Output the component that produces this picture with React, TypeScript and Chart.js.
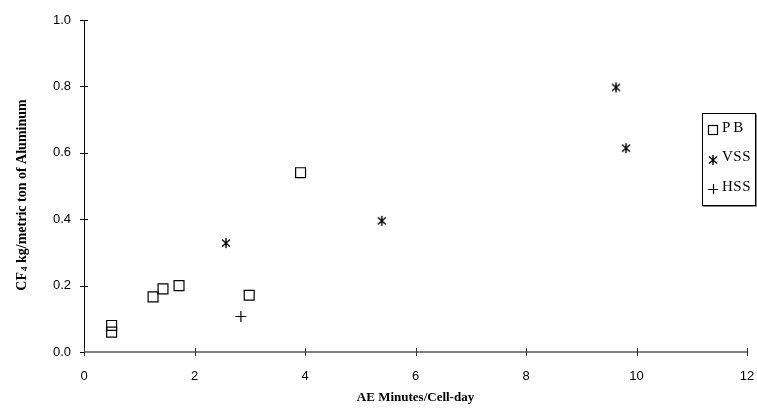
import React, { useEffect, useRef } from "react";
import { Chart, registerables } from "chart.js";

Chart.register(...registerables);

const pbX = [0.5, 0.5, 1.25, 1.43, 1.72, 2.99, 3.92];
const pbY = [0.08, 0.06, 0.166, 0.19, 0.2, 0.171, 0.54];
const vssX = [2.57, 5.39, 9.63, 9.81];
const vssY = [0.328, 0.395, 0.797, 0.614];
const hssX = [2.84];
const hssY = [0.107];
const seriesNames = ["PB", "VSS", "HSS"];
const xTitle = "AE Minutes/Cell-day";
const yTitleMain = "CF";
const yTitleSub = "4";
const yTitleRest = " kg/metric ton of Aluminum";

function makeStar(): HTMLCanvasElement {
  const c = document.createElement("canvas");
  c.width = 12;
  c.height = 12;
  const g = c.getContext("2d")!;
  g.strokeStyle = "#000";
  g.lineWidth = 1.4;
  g.beginPath();
  g.moveTo(2, 2.5); g.lineTo(10, 9.5);
  g.moveTo(10, 2.5); g.lineTo(2, 9.5);
  g.moveTo(6, 1); g.lineTo(6, 11);
  g.stroke();
  return c;
}

export default function App() {
  const ref = useRef<HTMLCanvasElement>(null);
  useEffect(() => {
    const star = makeStar();
    const toPts = (xs: number[], ys: number[]) => xs.map((x, i) => ({ x, y: ys[i] }));
    const serif = "'Liberation Serif', 'Times New Roman', serif";
    const sans = "'Liberation Sans', Arial, sans-serif";

    const deco = {
      id: "deco",
      afterDraw(chart: any) {
        const ctx = chart.ctx as CanvasRenderingContext2D;
        const xs = chart.scales.x;
        const ys = chart.scales.y;
        const left = xs.left;
        const bottom = ys.bottom;
        ctx.save();
        // y axis
        ctx.strokeStyle = "#000";
        ctx.lineWidth = 1;
        ctx.beginPath();
        ctx.moveTo(left + 0.5, ys.top);
        ctx.lineTo(left + 0.5, bottom);
        ys.ticks.forEach((t: any) => {
          const p = Math.round(ys.getPixelForValue(t.value)) + 0.5;
          ctx.moveTo(left - 4, p);
          ctx.lineTo(left + 4, p);
        });
        ctx.stroke();
        // x axis
        ctx.strokeStyle = "#808080";
        ctx.lineWidth = 2;
        ctx.beginPath();
        ctx.moveTo(xs.left, bottom);
        ctx.lineTo(xs.right, bottom);
        ctx.stroke();
        ctx.strokeStyle = "#333";
        ctx.lineWidth = 1;
        ctx.beginPath();
        xs.ticks.forEach((t: any) => {
          const p = Math.round(xs.getPixelForValue(t.value)) + 0.5;
          ctx.moveTo(p, bottom - 4);
          ctx.lineTo(p, bottom + 4);
        });
        ctx.stroke();

        // x title
        ctx.fillStyle = "#000";
        ctx.font = "bold 13px " + serif;
        ctx.textAlign = "center";
        ctx.textBaseline = "middle";
        ctx.fillText(xTitle, (xs.left + xs.right) / 2, 398);

        // y title
        ctx.save();
        ctx.translate(22, 195);
        ctx.rotate(-Math.PI / 2);
        ctx.textAlign = "left";
        ctx.textBaseline = "middle";
        const fMain = "bold 14px " + serif;
        const fSub = "bold 9px " + serif;
        ctx.font = fMain;
        const w1 = ctx.measureText(yTitleMain).width;
        const w3 = ctx.measureText(yTitleRest).width;
        ctx.font = fSub;
        const w2 = ctx.measureText(yTitleSub).width + 1;
        let x0 = -(w1 + w2 + w3) / 2;
        ctx.font = fMain;
        ctx.fillText(yTitleMain, x0, 0);
        x0 += w1 + 1;
        ctx.font = fSub;
        ctx.fillText(yTitleSub, x0, 3);
        x0 += w2 - 1;
        ctx.font = fMain;
        ctx.fillText(yTitleRest, x0, 0);
        ctx.restore();

        // legend
        const lx = 702, ly = 113, lw = 53, lh = 92;
        ctx.fillStyle = "#fff";
        ctx.fillRect(lx, ly, lw, lh);
        ctx.strokeStyle = "#000";
        ctx.lineWidth = 1;
        ctx.strokeRect(lx + 0.5, ly + 0.5, lw, lh);
        ctx.strokeStyle = "#888";
        ctx.beginPath();
        ctx.moveTo(lx + 1, ly + lh + 1.5);
        ctx.lineTo(lx + lw + 1.5, ly + lh + 1.5);
        ctx.lineTo(lx + lw + 1.5, ly + 1);
        ctx.stroke();
        const rowsY = [129, 158, 188];
        chart.data.datasets.forEach((ds: any, i: number) => {
          const y = rowsY[i];
          ctx.strokeStyle = "#000";
          ctx.lineWidth = 1.2;
          if (i === 0) {
            ctx.strokeRect(708.5, y - 3.5, 9, 9);
          } else if (i === 1) {
            ctx.drawImage(star, 707, y - 4);
          } else {
            ctx.beginPath();
            ctx.moveTo(708, y + 1.5); ctx.lineTo(718, y + 1.5);
            ctx.moveTo(713.5, y - 4); ctx.lineTo(713.5, y + 6);
            ctx.stroke();
          }
          ctx.fillStyle = "#000";
          ctx.font = "15px " + serif;
          (ctx as any).letterSpacing = i === 0 ? "3px" : "0.5px";
          ctx.textAlign = "left";
          ctx.textBaseline = "middle";
          ctx.fillText(ds.label, 722, y - 1);
          (ctx as any).letterSpacing = "0px";
        });
        ctx.restore();
      },
    };

    const chart = new Chart(ref.current!, {
      type: "scatter",
      data: {
        datasets: [
          {
            label: seriesNames[0],
            data: toPts(pbX, pbY),
            pointStyle: "rect",
            pointRadius: 7,
            borderColor: "#000",
            backgroundColor: "rgba(0,0,0,0)",
            borderWidth: 1.2,
          },
          {
            label: seriesNames[1],
            data: toPts(vssX, vssY),
            pointStyle: star as any,
            pointRadius: 6,
            borderColor: "#000",
            backgroundColor: "#000",
          },
          {
            label: seriesNames[2],
            data: toPts(hssX, hssY),
            pointStyle: "cross",
            pointRadius: 5.5,
            borderColor: "#000",
            borderWidth: 1.2,
          },
        ],
      },
      options: {
        animation: false,
        responsive: false,
        devicePixelRatio: 1,
        layout: { padding: { top: 20, right: 10, left: 0, bottom: 0 } },
        plugins: { legend: { display: false }, tooltip: { enabled: false } },
        scales: {
          x: {
            type: "linear",
            min: 0,
            max: 12,
            grid: { display: false },
            border: { display: false },
            ticks: {
              stepSize: 2,
              padding: 9,
              color: "#000",
              font: { family: sans, size: 13 },
            },
            afterFit: (s: any) => {
              s.height = 56;
              s.paddingLeft = 0;
              s.paddingRight = 0;
            },
          },
          y: {
            type: "linear",
            min: 0,
            max: 1,
            grid: { display: false },
            border: { display: false },
            ticks: {
              stepSize: 0.2,
              padding: 5,
              color: "#000",
              font: { family: sans, size: 13 },
              callback: (v: any) => Number(v).toFixed(1),
            },
            afterFit: (s: any) => {
              s.width = 84;
              s.paddingTop = 0;
              s.paddingBottom = 0;
            },
          },
        },
      },
      plugins: [deco],
    });
    return () => chart.destroy();
  }, []);

  return (
    <div style={{ position: "absolute", left: 0, top: 0, width: 757, height: 408, background: "#fff" }}>
      <canvas ref={ref} width={757} height={408} />
    </div>
  );
}
